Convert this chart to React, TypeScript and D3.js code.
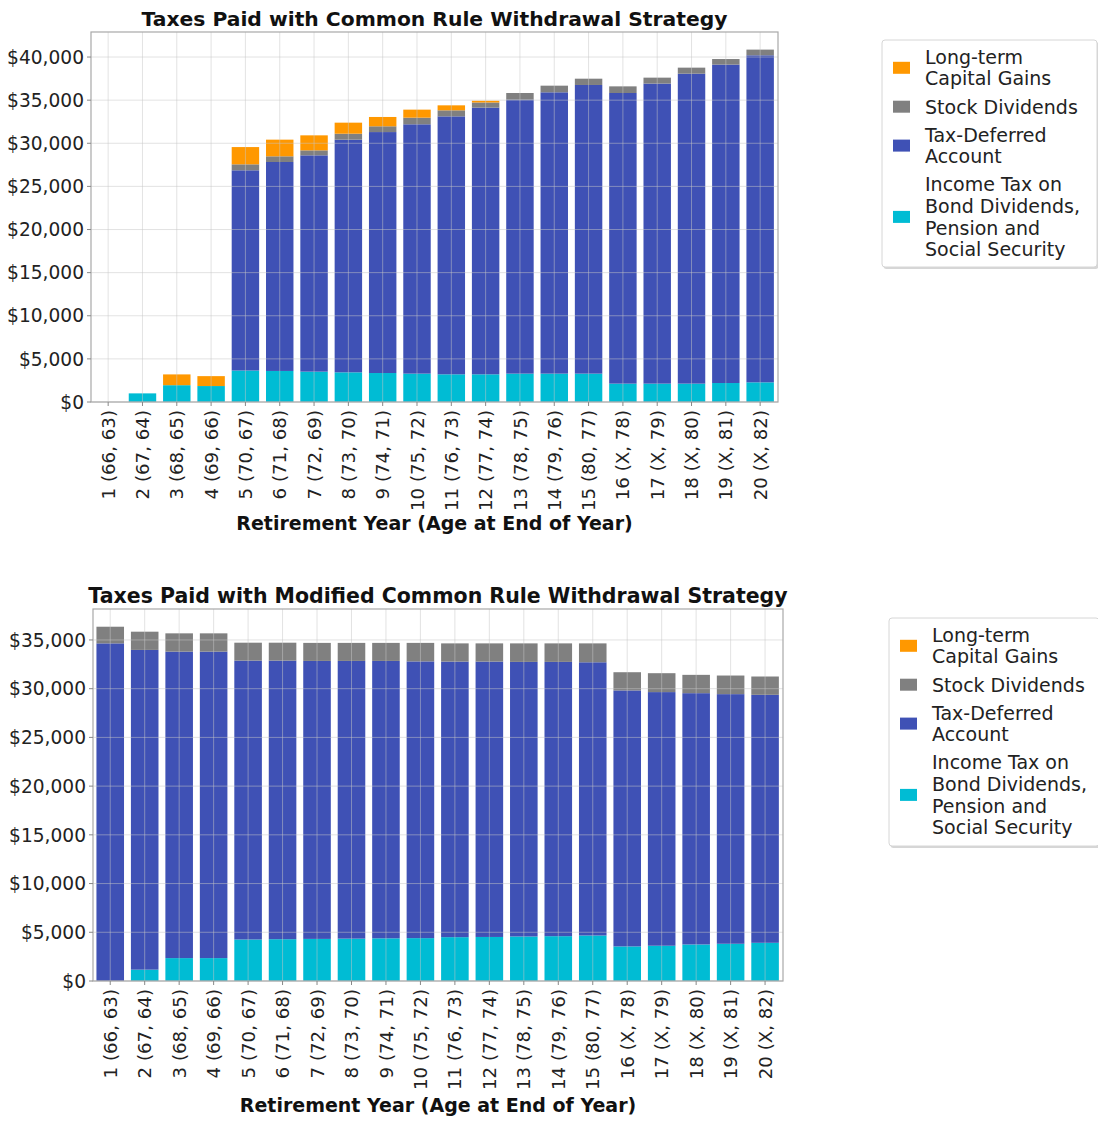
import React from "react";
import * as d3 from "d3";

// Retirement year labels (age at end of year for each spouse)
const years = [
  "1 (66, 63)", "2 (67, 64)", "3 (68, 65)", "4 (69, 66)", "5 (70, 67)",
  "6 (71, 68)", "7 (72, 69)", "8 (73, 70)", "9 (74, 71)", "10 (75, 72)",
  "11 (76, 73)", "12 (77, 74)", "13 (78, 75)", "14 (79, 76)", "15 (80, 77)",
  "16 (X, 78)", "17 (X, 79)", "18 (X, 80)", "19 (X, 81)", "20 (X, 82)",
];

// Common rule withdrawal strategy – taxes by source ($)
const commonIncome = [0, 1000, 1950, 1850, 3650, 3600, 3520, 3440, 3360, 3290, 3210, 3210, 3290, 3290, 3290, 2130, 2130, 2130, 2200, 2280];
const commonTaxDeferred = [0, 0, 0, 0, 23215, 24230, 25080, 26980, 27940, 28910, 29910, 30920, 31770, 32620, 33470, 33700, 34790, 35940, 36920, 37920];
const commonStockDiv = [0, 0, 0, 0, 695, 660, 580, 690, 670, 770, 700, 600, 770, 770, 730, 770, 690, 700, 650, 660];
const commonCapGains = [0, 0, 1250, 1150, 2000, 1930, 1740, 1280, 1080, 930, 580, 200, 0, 0, 0, 0, 0, 0, 0, 0];

// Modified common rule withdrawal strategy – taxes by source ($)
const modIncome = [0, 1165, 2350, 2350, 4260, 4290, 4320, 4350, 4380, 4400, 4500, 4520, 4570, 4600, 4670, 3550, 3620, 3750, 3820, 3920];
const modTaxDeferred = [34650, 32815, 31450, 31450, 28620, 28590, 28530, 28500, 28470, 28400, 28280, 28260, 28180, 28150, 28040, 26270, 26030, 25790, 25620, 25450];
const modStockDiv = [1710, 1870, 1880, 1880, 1840, 1840, 1850, 1850, 1850, 1900, 1870, 1870, 1900, 1900, 1940, 1870, 1940, 1880, 1910, 1880];
const modCapGains = [0, 0, 0, 0, 0, 0, 0, 0, 0, 0, 0, 0, 0, 0, 0, 0, 0, 0, 0, 0];

const seriesKeys = ["income", "taxDeferred", "stockDiv", "capGains"];
const seriesColors: Record<string, string> = {
  income: "#00BCD4",
  taxDeferred: "#3F51B5",
  stockDiv: "#808080",
  capGains: "#FF9800",
};
// Legend entries, top to bottom
const legendEntries = [
  { key: "capGains", lines: ["Long-term", "Capital Gains"] },
  { key: "stockDiv", lines: ["Stock Dividends"] },
  { key: "taxDeferred", lines: ["Tax-Deferred", "Account"] },
  { key: "income", lines: ["Income Tax on", "Bond Dividends,", "Pension and", "Social Security"] },
];

const FONT = "'DejaVu Sans', sans-serif";
const money = (v: number) => "$" + d3.format(",")(v);

type ChartProps = {
  title: string;
  titleSize: number;
  income: number[];
  taxDeferred: number[];
  stockDiv: number[];
  capGains: number[];
  tickStep: number;
  box: { left: number; right: number; top: number; bottom: number };
  legend: { x: number; y: number; w: number; h: number };
  xLabelY: number;
};

function StackedChart({ title, titleSize, income, taxDeferred, stockDiv, capGains, tickStep, box, legend, xLabelY }: ChartProps) {
  const rows = years.map((y, i) => ({
    year: y,
    idx: i,
    income: income[i],
    taxDeferred: taxDeferred[i],
    stockDiv: stockDiv[i],
    capGains: capGains[i],
  }));
  const stack = d3.stack<any>().keys(seriesKeys)(rows);
  const maxTotal = d3.max(rows, (r) => r.income + r.taxDeferred + r.stockDiv + r.capGains) as number;

  const x = d3.scaleLinear().domain([-0.5, years.length - 0.48]).range([box.left, box.right]);
  const y = d3.scaleLinear().domain([0, maxTotal * 1.05]).range([box.bottom, box.top]);
  const yTicks = d3.range(0, maxTotal * 1.05, tickStep);
  const barW = x(0.8) - x(0);

  const cx = (box.left + box.right) / 2;
  const lineH = 21.6;

  return (
    <g>
      <text x={cx} y={box.top - 6} textAnchor="middle" fontFamily={FONT} fontWeight="bold" fontSize={titleSize} fill="#111">
        {title}
      </text>
      {/* bars */}
      {stack.map((layer) => (
        <g key={layer.key} fill={seriesColors[layer.key]}>
          {layer.map((d, i) =>
            d[1] - d[0] > 0 ? (
              <rect key={i} x={x(i) - barW / 2} width={barW} y={y(d[1])} height={y(d[0]) - y(d[1])} />
            ) : null
          )}
        </g>
      ))}
      {/* grid over bars */}
      <g stroke="#c8c8c8" strokeOpacity={0.5} strokeWidth={1}>
        {yTicks.map((t) => (
          <line key={"h" + t} x1={box.left} x2={box.right} y1={y(t)} y2={y(t)} />
        ))}
        {years.map((_, i) => (
          <line key={"v" + i} x1={x(i)} x2={x(i)} y1={box.top} y2={box.bottom} />
        ))}
      </g>
      {/* frame */}
      <rect x={box.left} y={box.top} width={box.right - box.left} height={box.bottom - box.top} fill="none" stroke="#a8a8a8" strokeWidth={1.2} />
      {/* y axis */}
      {yTicks.map((t) => (
        <g key={"yt" + t}>
          <line x1={box.left - 4} x2={box.left} y1={y(t)} y2={y(t)} stroke="#888" />
          <text x={box.left - 7} y={y(t)} dy="0.36em" textAnchor="end" fontFamily={FONT} fontSize={18.6} fill="#222">
            {money(t)}
          </text>
        </g>
      ))}
      {/* x axis */}
      {years.map((lab, i) => (
        <g key={"xt" + i}>
          <line x1={x(i)} x2={x(i)} y1={box.bottom} y2={box.bottom + 4} stroke="#888" />
          <text
            transform={`translate(${x(i)},${box.bottom + 8}) rotate(-90)`}
            textAnchor="end"
            dy="0.36em"
            fontFamily={FONT}
            fontSize={18.2}
            fill="#222"
          >
            {lab}
          </text>
        </g>
      ))}
      <text x={cx} y={xLabelY} textAnchor="middle" fontFamily={FONT} fontWeight="bold" fontSize={19} fill="#111">
        Retirement Year (Age at End of Year)
      </text>
      {/* legend */}
      <rect x={legend.x + 1.5} y={legend.y + 2} width={legend.w} height={legend.h} rx={3} fill="#bbb" opacity={0.6} />
      <rect x={legend.x} y={legend.y} width={legend.w} height={legend.h} rx={3} fill="#fff" stroke="#d6d6d6" />
      {(() => {
        let ly = legend.y + 17;
        return legendEntries.map((e) => {
          const top = ly;
          ly += e.lines.length * lineH + 6.5;
          const mid = top + ((e.lines.length - 1) * lineH) / 2;
          return (
            <g key={e.key}>
              <rect x={legend.x + 11} y={mid - 6} width={17} height={12} fill={seriesColors[e.key]} />
              {e.lines.map((ln, k) => (
                <text key={k} x={legend.x + 43} y={top + k * lineH} dy="0.36em" fontFamily={FONT} fontSize={19} fill="#222">
                  {ln}
                </text>
              ))}
            </g>
          );
        });
      })()}
    </g>
  );
}

export default function App() {
  return (
    <svg
      width={1098}
      height={1122}
      style={{ position: "absolute", left: 0, top: 0, background: "#fff" }}
      xmlns="http://www.w3.org/2000/svg"
    >
      <rect width={1098} height={1122} fill="#fff" />
      <StackedChart
        title="Taxes Paid with Common Rule Withdrawal Strategy"
        titleSize={20.3}
        income={commonIncome}
        taxDeferred={commonTaxDeferred}
        stockDiv={commonStockDiv}
        capGains={commonCapGains}
        tickStep={5000}
        box={{ left: 91, right: 778, top: 32, bottom: 402 }}
        legend={{ x: 882, y: 40, w: 215, h: 227 }}
        xLabelY={530}
      />
      <StackedChart
        title="Taxes Paid with Modified Common Rule Withdrawal Strategy"
        titleSize={20.5}
        income={modIncome}
        taxDeferred={modTaxDeferred}
        stockDiv={modStockDiv}
        capGains={modCapGains}
        tickStep={5000}
        box={{ left: 93, right: 783, top: 609, bottom: 981 }}
        legend={{ x: 889, y: 618, w: 210, h: 228 }}
        xLabelY={1112}
      />
    </svg>
  );
}
